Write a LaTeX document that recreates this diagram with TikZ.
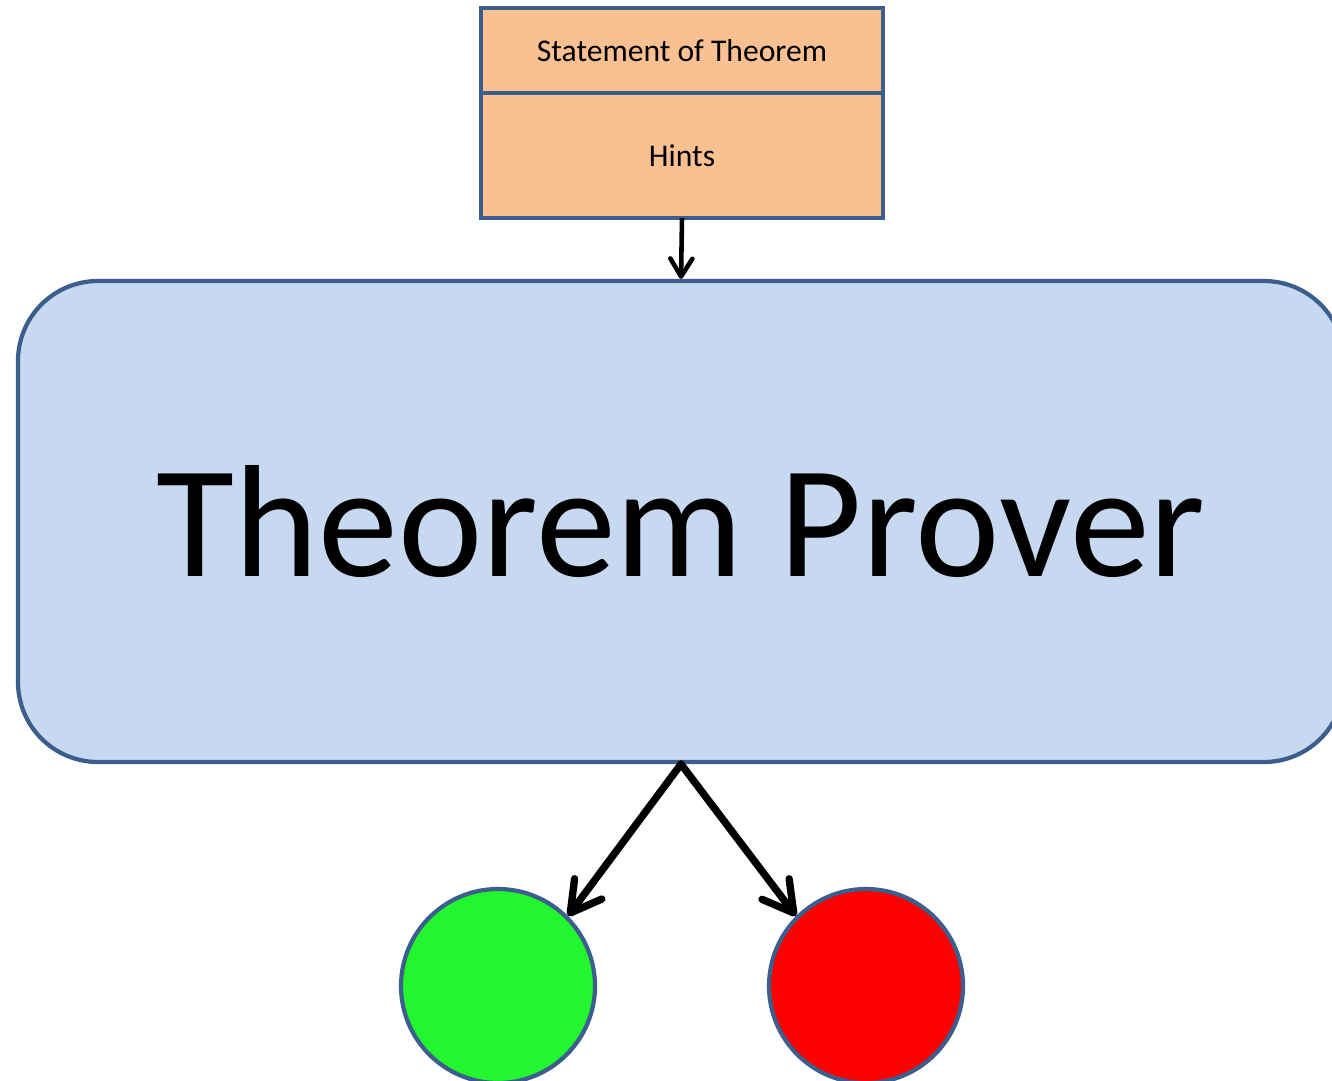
\documentclass[tikz,border=0pt]{standalone}
\usepackage{fontspec}
\setmainfont{Carlito}
\usetikzlibrary{arrows.meta, positioning}

\definecolor{boxline}{HTML}{3B5E8C}
\definecolor{peach}{HTML}{F9C091}
\definecolor{paleblue}{HTML}{C6D9F1}
\definecolor{okgreen}{HTML}{23F52F}
\definecolor{badred}{HTML}{FF0000}

\begin{document}
\begin{tikzpicture}[
    inpbox/.style={draw=boxline, line width=1.2pt, fill=peach, minimum width=4.02cm, font=\fontsize{9}{11}\selectfont, inner sep=0pt, outer sep=0pt},
    prover/.style={draw=boxline, line width=1.2pt, fill=paleblue, rounded corners=0.8cm, minimum width=13.26cm, minimum height=4.81cm, font=\fontsize{45.5}{54}\selectfont},
    result/.style={circle, draw=boxline, line width=1.2pt, minimum size=1.94cm, inner sep=0pt},
    thinarr/.style={-{Straight Barb[length=1.8mm, width=2.2mm, round]}, line width=1.3pt},
    arr/.style={-{Straight Barb[length=3mm, width=3.4mm, round]}, line width=2.1pt, line cap=round},
]
\useasboundingbox (0,0) rectangle (13.32,-10.80);
% --- input: statement and hints ---
\node[inpbox, minimum height=0.85cm] (stmt) at (6.82,-0.505) {Statement of Theorem};
\node[inpbox, minimum height=1.25cm, below=0pt of stmt] (hints) {Hints};
% --- the prover ---
\node[prover] (tp) at (6.81,-5.215) {Theorem Prover};
% --- outcomes ---
\node[result, fill=okgreen] (proved) at (4.98,-9.86) {};
\node[result, fill=badred] (failed) at (8.66,-9.86) {};
% --- connectors ---
\draw[thinarr] (hints.south) -- (tp.north);
\draw[arr] (tp.south) -- (proved.45);
\draw[arr] (tp.south) -- (failed.135);
\end{tikzpicture}
\end{document}
